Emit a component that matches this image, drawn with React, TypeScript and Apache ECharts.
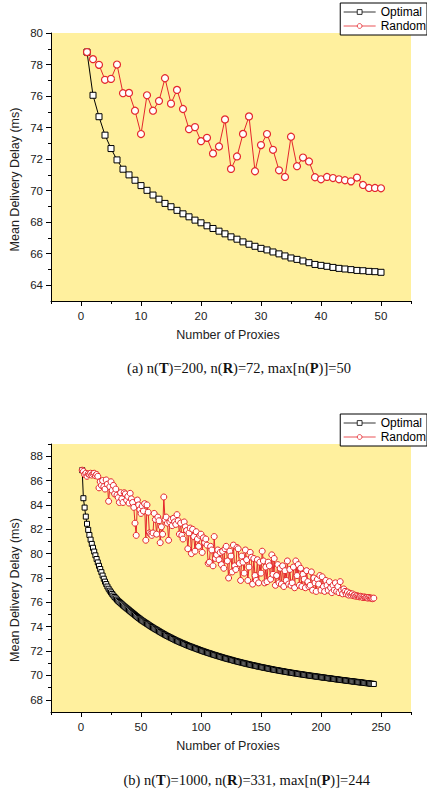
import React, { useEffect, useRef } from "react";
import * as echarts from "echarts";

// ---------- data ----------
const topOptimal = [
  78.79, 76.05, 74.69, 73.52, 72.67, 71.95, 71.36, 71.0, 70.66, 70.32,
  70.02, 69.72, 69.46, 69.19, 68.98, 68.75, 68.53, 68.34, 68.13, 67.96,
  67.77, 67.6, 67.43, 67.26, 67.07, 66.92, 66.75, 66.6, 66.47, 66.34,
  66.24, 66.11, 65.99, 65.86, 65.73, 65.64, 65.54, 65.43, 65.32, 65.26,
  65.2, 65.13, 65.07, 65.03, 64.99, 64.94, 64.92, 64.88, 64.86, 64.82,
];
const topRandom = [
  78.79, 78.34, 77.98, 77.03, 77.09, 78.0, 76.18, 76.2, 75.07, 73.59,
  76.05, 75.07, 75.69, 77.13, 75.52, 76.39, 75.18, 73.9, 74.03, 73.14,
  73.35, 72.36, 72.8, 74.52, 71.38, 72.17, 73.6, 74.71, 71.23, 72.89,
  73.59, 72.59, 71.29, 70.87, 73.42, 71.55, 72.1, 71.85, 70.85, 70.72,
  70.87, 70.8, 70.72, 70.66, 70.59, 70.83, 70.36, 70.17, 70.17, 70.15,
];
const bottomOptimal = [
  86.85, 84.55, 83.78, 83.04, 82.45, 81.95, 81.53, 81.15, 80.8, 80.48,
  80.17, 79.86, 79.56, 79.28, 79.0, 78.74, 78.48, 78.2, 77.94, 77.7,
  77.5, 77.3, 77.12, 76.96, 76.82, 76.69, 76.56, 76.44, 76.33, 76.22,
  76.12, 76.03, 75.94, 75.85, 75.76, 75.68, 75.6, 75.52, 75.44, 75.36,
  75.28, 75.2, 75.12, 75.04, 74.96, 74.88, 74.8, 74.72, 74.65, 74.57,
  74.5, 74.44, 74.37, 74.31, 74.24, 74.18, 74.11, 74.05, 73.98, 73.92,
  73.86, 73.8, 73.75, 73.69, 73.63, 73.57, 73.51, 73.46, 73.4, 73.34,
  73.29, 73.24, 73.19, 73.14, 73.09, 73.04, 72.99, 72.94, 72.89, 72.84,
  72.8, 72.76, 72.71, 72.67, 72.63, 72.59, 72.55, 72.5, 72.46, 72.42,
  72.38, 72.35, 72.31, 72.27, 72.24, 72.2, 72.16, 72.13, 72.09, 72.05,
  72.02, 71.98, 71.95, 71.92, 71.88, 71.85, 71.82, 71.79, 71.75, 71.72,
  71.69, 71.66, 71.63, 71.6, 71.57, 71.54, 71.51, 71.48, 71.45, 71.42,
  71.39, 71.37, 71.34, 71.31, 71.29, 71.26, 71.23, 71.2, 71.18, 71.15,
  71.13, 71.1, 71.08, 71.05, 71.03, 71.0, 70.98, 70.96, 70.93, 70.91,
  70.89, 70.86, 70.84, 70.82, 70.8, 70.78, 70.75, 70.73, 70.71, 70.69,
  70.67, 70.65, 70.63, 70.61, 70.59, 70.57, 70.55, 70.53, 70.51, 70.49,
  70.47, 70.45, 70.44, 70.42, 70.4, 70.38, 70.36, 70.35, 70.33, 70.31,
  70.29, 70.28, 70.26, 70.24, 70.23, 70.21, 70.2, 70.18, 70.16, 70.15,
  70.13, 70.12, 70.1, 70.09, 70.07, 70.06, 70.04, 70.03, 70.01, 70.0,
  69.98, 69.97, 69.96, 69.94, 69.93, 69.91, 69.9, 69.89, 69.87, 69.86,
  69.84, 69.83, 69.82, 69.8, 69.79, 69.78, 69.76, 69.75, 69.74, 69.72,
  69.71, 69.7, 69.68, 69.67, 69.66, 69.64, 69.63, 69.62, 69.61, 69.59,
  69.58, 69.57, 69.55, 69.54, 69.53, 69.52, 69.5, 69.49, 69.48, 69.47,
  69.45, 69.44, 69.43, 69.42, 69.41, 69.39, 69.38, 69.37, 69.36, 69.35,
  69.33, 69.32, 69.31, 69.3,
];
const bottomRandom = [
  86.85, 86.75, 86.5, 86.6, 86.35, 86.55, 86.5, 86.6, 86.45, 86.55,
  86.6, 86.4, 86.5, 86.35, 85.4, 85.9, 85.6, 86.0, 85.5, 85.3,
  86.05, 85.7, 84.3, 85.5, 85.9, 85.2, 85.6, 84.9, 85.3, 84.8,
  84.6, 84.2, 85.0, 84.5, 84.2, 85.0, 84.9, 84.4, 84.7, 84.15,
  84.95, 84.5, 84.2, 83.8, 82.5, 81.5, 84.4, 84.0, 83.6, 83.3,
  83.9, 83.5, 84.1, 81.1, 84.0, 83.4, 81.7, 81.6, 81.5, 81.7,
  83.3, 82.8, 81.6, 83.0, 82.7, 80.9, 82.2, 81.6, 84.65, 82.8,
  83.0, 82.5, 81.1, 82.6, 82.8, 82.3, 82.9, 82.6, 82.4, 83.2,
  82.7, 81.6, 82.5, 81.5, 81.2, 82.6, 82.2, 81.9, 80.4, 81.7,
  82.1, 80.0, 82.0, 81.4, 80.2, 81.8, 81.2, 80.6, 81.5, 81.6,
  80.1, 81.3, 80.9, 81.2, 80.7, 79.2, 79.3, 80.6, 80.3, 79.0,
  81.4, 79.6, 79.9, 80.3, 79.5, 80.1, 79.1, 80.2, 78.8, 80.4,
  80.6, 79.4, 78.0, 80.2, 79.8, 78.5, 80.7, 79.0, 78.7, 80.5,
  80.4, 79.2, 77.8, 79.8, 79.3, 78.4, 80.3, 79.5, 77.8, 78.9,
  80.1, 79.7, 77.5, 79.6, 78.2, 77.8, 79.5, 77.6, 79.3, 78.4,
  80.2, 79.4, 77.6, 78.9, 77.7, 79.3, 79.0, 77.9, 79.9, 78.3,
  79.6, 77.4, 78.2, 79.1, 77.6, 78.8, 77.5, 79.0, 77.3, 78.6,
  77.8, 79.4, 77.5, 78.7, 77.4, 77.6, 78.9, 77.2, 79.4, 78.2,
  79.1, 77.4, 78.8, 77.3, 78.3, 77.9, 77.2, 78.6, 77.7, 77.3,
  77.4, 78.5, 77.0, 78.0, 77.6, 76.9, 77.9, 77.5, 78.2, 77.0,
  78.1, 77.3, 76.9, 77.8, 77.4, 77.0, 77.7, 77.2, 76.8, 77.4,
  77.0, 77.6, 76.9, 77.3, 76.8, 77.7, 77.0, 76.7, 77.1, 76.9,
  76.7, 76.85, 76.6, 76.75, 76.6, 76.7, 76.55, 76.6, 76.5, 76.55,
  76.5, 76.45, 76.5, 76.45, 76.4, 76.45, 76.4, 76.4, 76.35, 76.4,
  76.35, 76.35, 76.3, 76.35,
];

const topXMajor = [0, 10, 20, 30, 40, 50];
const topXMinor = [-5, 5, 15, 25, 35, 45, 55];
const topYMajor = [64, 66, 68, 70, 72, 74, 76, 78, 80];
const topYMinor = [65, 67, 69, 71, 73, 75, 77, 79];
const botXMajor = [0, 50, 100, 150, 200, 250];
const botXMinor = [-25, 25, 75, 125, 175, 225, 275];
const botYMajor = [68, 70, 72, 74, 76, 78, 80, 82, 84, 86, 88];
const botYMinor = [69, 71, 73, 75, 77, 79, 81, 83, 85, 87, 89];

const seriesNames = ["Optimal", "Random"];
const yTitle = "Mean Delivery Delay (ms)";
const xTitle = "Number of Proxies";
const captionA = "(a) n({b|T})=200, n({b|R})=72, max[n({b|P})]=50";
const captionB = "(b) n({b|T})=1000, n({b|R})=331, max[n({b|P})]=244";

const RED = "#e4262c";
const BG = "#FFF09E";
const SANS = '"Liberation Sans", Arial, sans-serif';
const SERIF = '"Liberation Serif", "Times New Roman", serif';

const toPairs = (vals: number[]) => vals.map((v, i) => [i + 1, v]);

function xAxes(grid: number, min: number, max: number, major: number[], minor: number[]) {
  return [
    {
      gridIndex: grid, type: "value", min, max, position: "bottom",
      axisLine: { show: true, onZero: false, lineStyle: { color: "#000", width: 1 } },
      axisTick: { show: true, customValues: major, length: 5, lineStyle: { color: "#000", width: 1 } },
      axisLabel: { show: true, customValues: major, margin: 9, fontSize: 11.5, fontFamily: SANS, color: "#222" },
      splitLine: { show: false },
    },
    {
      gridIndex: grid, type: "value", min, max, position: "bottom",
      axisLine: { show: false, onZero: false },
      axisTick: { show: true, customValues: minor, length: 3, lineStyle: { color: "#000", width: 1 } },
      axisLabel: { show: false },
      splitLine: { show: false },
    },
  ];
}
function yAxes(grid: number, min: number, max: number, major: number[], minor: number[]) {
  return [
    {
      gridIndex: grid, type: "value", min, max, position: "left",
      axisLine: { show: true, onZero: false, lineStyle: { color: "#000", width: 1 } },
      axisTick: { show: true, customValues: major, length: 5, lineStyle: { color: "#000", width: 1 } },
      axisLabel: { show: true, customValues: major, margin: 8, fontSize: 11.5, fontFamily: SANS, color: "#222" },
      splitLine: { show: false },
    },
    {
      gridIndex: grid, type: "value", min, max, position: "left",
      axisLine: { show: false, onZero: false },
      axisTick: { show: true, customValues: minor, length: 3, lineStyle: { color: "#000", width: 1 } },
      axisLabel: { show: false },
      splitLine: { show: false },
    },
  ];
}

function legend(top: number) {
  return {
    data: seriesNames,
    orient: "vertical",
    right: 0,
    top,
    itemWidth: 32,
    itemHeight: 6,
    itemGap: 2,
    padding: [3, 1, 3, 3],
    backgroundColor: "#fff",
    borderColor: "#000",
    borderWidth: 1,
    borderRadius: 0,
    selectedMode: false,
    lineStyle: { width: 0.8 },
    itemStyle: { borderWidth: 0.8 },
    textStyle: { fontSize: 12, fontFamily: SANS, color: "#000", padding: [0, 0, 0, 0] },
  };
}

function textEl(text: string, x: number, y: number, size: number, rotation = 0) {
  return {
    type: "text",
    x, y, rotation,
    style: {
      text, fontSize: size, fontFamily: SANS, fill: "#222",
      align: "center", verticalAlign: "middle",
      textAlign: "center", textVerticalAlign: "middle",
    },
  };
}
function captionEl(text: string, x: number, y: number) {
  return {
    type: "text",
    x, y,
    style: {
      text, fontSize: 14.5, fontFamily: SERIF, fill: "#111",
      align: "center", verticalAlign: "middle",
      textAlign: "center", textVerticalAlign: "middle",
      rich: { b: { fontWeight: "bold", fontSize: 14.5, fontFamily: SERIF, fill: "#111" } },
    },
  };
}

export default function App() {
  const ref = useRef<HTMLDivElement>(null);
  useEffect(() => {
    if (!ref.current) return;
    const chart = echarts.init(ref.current, null, { renderer: "svg" });
    const option: any = {
      animation: false,
      backgroundColor: "#fff",
      grid: [
        { left: 51, top: 33, width: 360, height: 268, show: true, backgroundColor: BG, borderWidth: 0 },
        { left: 51, top: 444, width: 360, height: 268, show: true, backgroundColor: BG, borderWidth: 0 },
      ],
      xAxis: [
        ...xAxes(0, -5, 55, topXMajor, topXMinor),
        ...xAxes(1, -25, 275, botXMajor, botXMinor),
      ],
      yAxis: [
        ...yAxes(0, 63, 80, topYMajor, topYMinor),
        ...yAxes(1, 67, 89, botYMajor, botYMinor),
      ],
      legend: [legend(3), legend(414)],
      series: [
        {
          name: seriesNames[0], type: "line", xAxisIndex: 0, yAxisIndex: 0,
          data: toPairs(topOptimal), symbol: "rect", symbolSize: 6,
          lineStyle: { color: "#000", width: 1 },
          itemStyle: { color: "#fff", borderColor: "#000", borderWidth: 1 },
        },
        {
          name: seriesNames[1], type: "line", xAxisIndex: 0, yAxisIndex: 0,
          data: toPairs(topRandom), symbol: "circle", symbolSize: 7,
          lineStyle: { color: RED, width: 1 },
          itemStyle: { color: "#fff", borderColor: RED, borderWidth: 1.2 },
        },
        {
          name: seriesNames[0], type: "line", xAxisIndex: 2, yAxisIndex: 2,
          data: toPairs(bottomOptimal), symbol: "rect", symbolSize: 5,
          lineStyle: { color: "#000", width: 1 },
          itemStyle: { color: "#fff", borderColor: "#000", borderWidth: 1 },
        },
        {
          name: seriesNames[1], type: "line", xAxisIndex: 2, yAxisIndex: 2,
          data: toPairs(bottomRandom), symbol: "circle", symbolSize: 6,
          lineStyle: { color: RED, width: 1 },
          itemStyle: { color: "#fff", borderColor: RED, borderWidth: 1 },
        },
      ],
      graphic: [
        textEl(yTitle, 15, 179.5, 12.5, Math.PI / 2),
        textEl(yTitle, 15, 590, 12.5, Math.PI / 2),
        textEl(xTitle, 228, 335, 12.5),
        textEl(xTitle, 228, 745.7, 12.5),
        captionEl(captionA, 239, 367.7),
        captionEl(captionB, 246.7, 780),
      ],
    };
    chart.setOption(option);
    return () => chart.dispose();
  }, []);
  return <div ref={ref} style={{ position: "fixed", left: 0, top: 0, width: 427, height: 791 }} />;
}
